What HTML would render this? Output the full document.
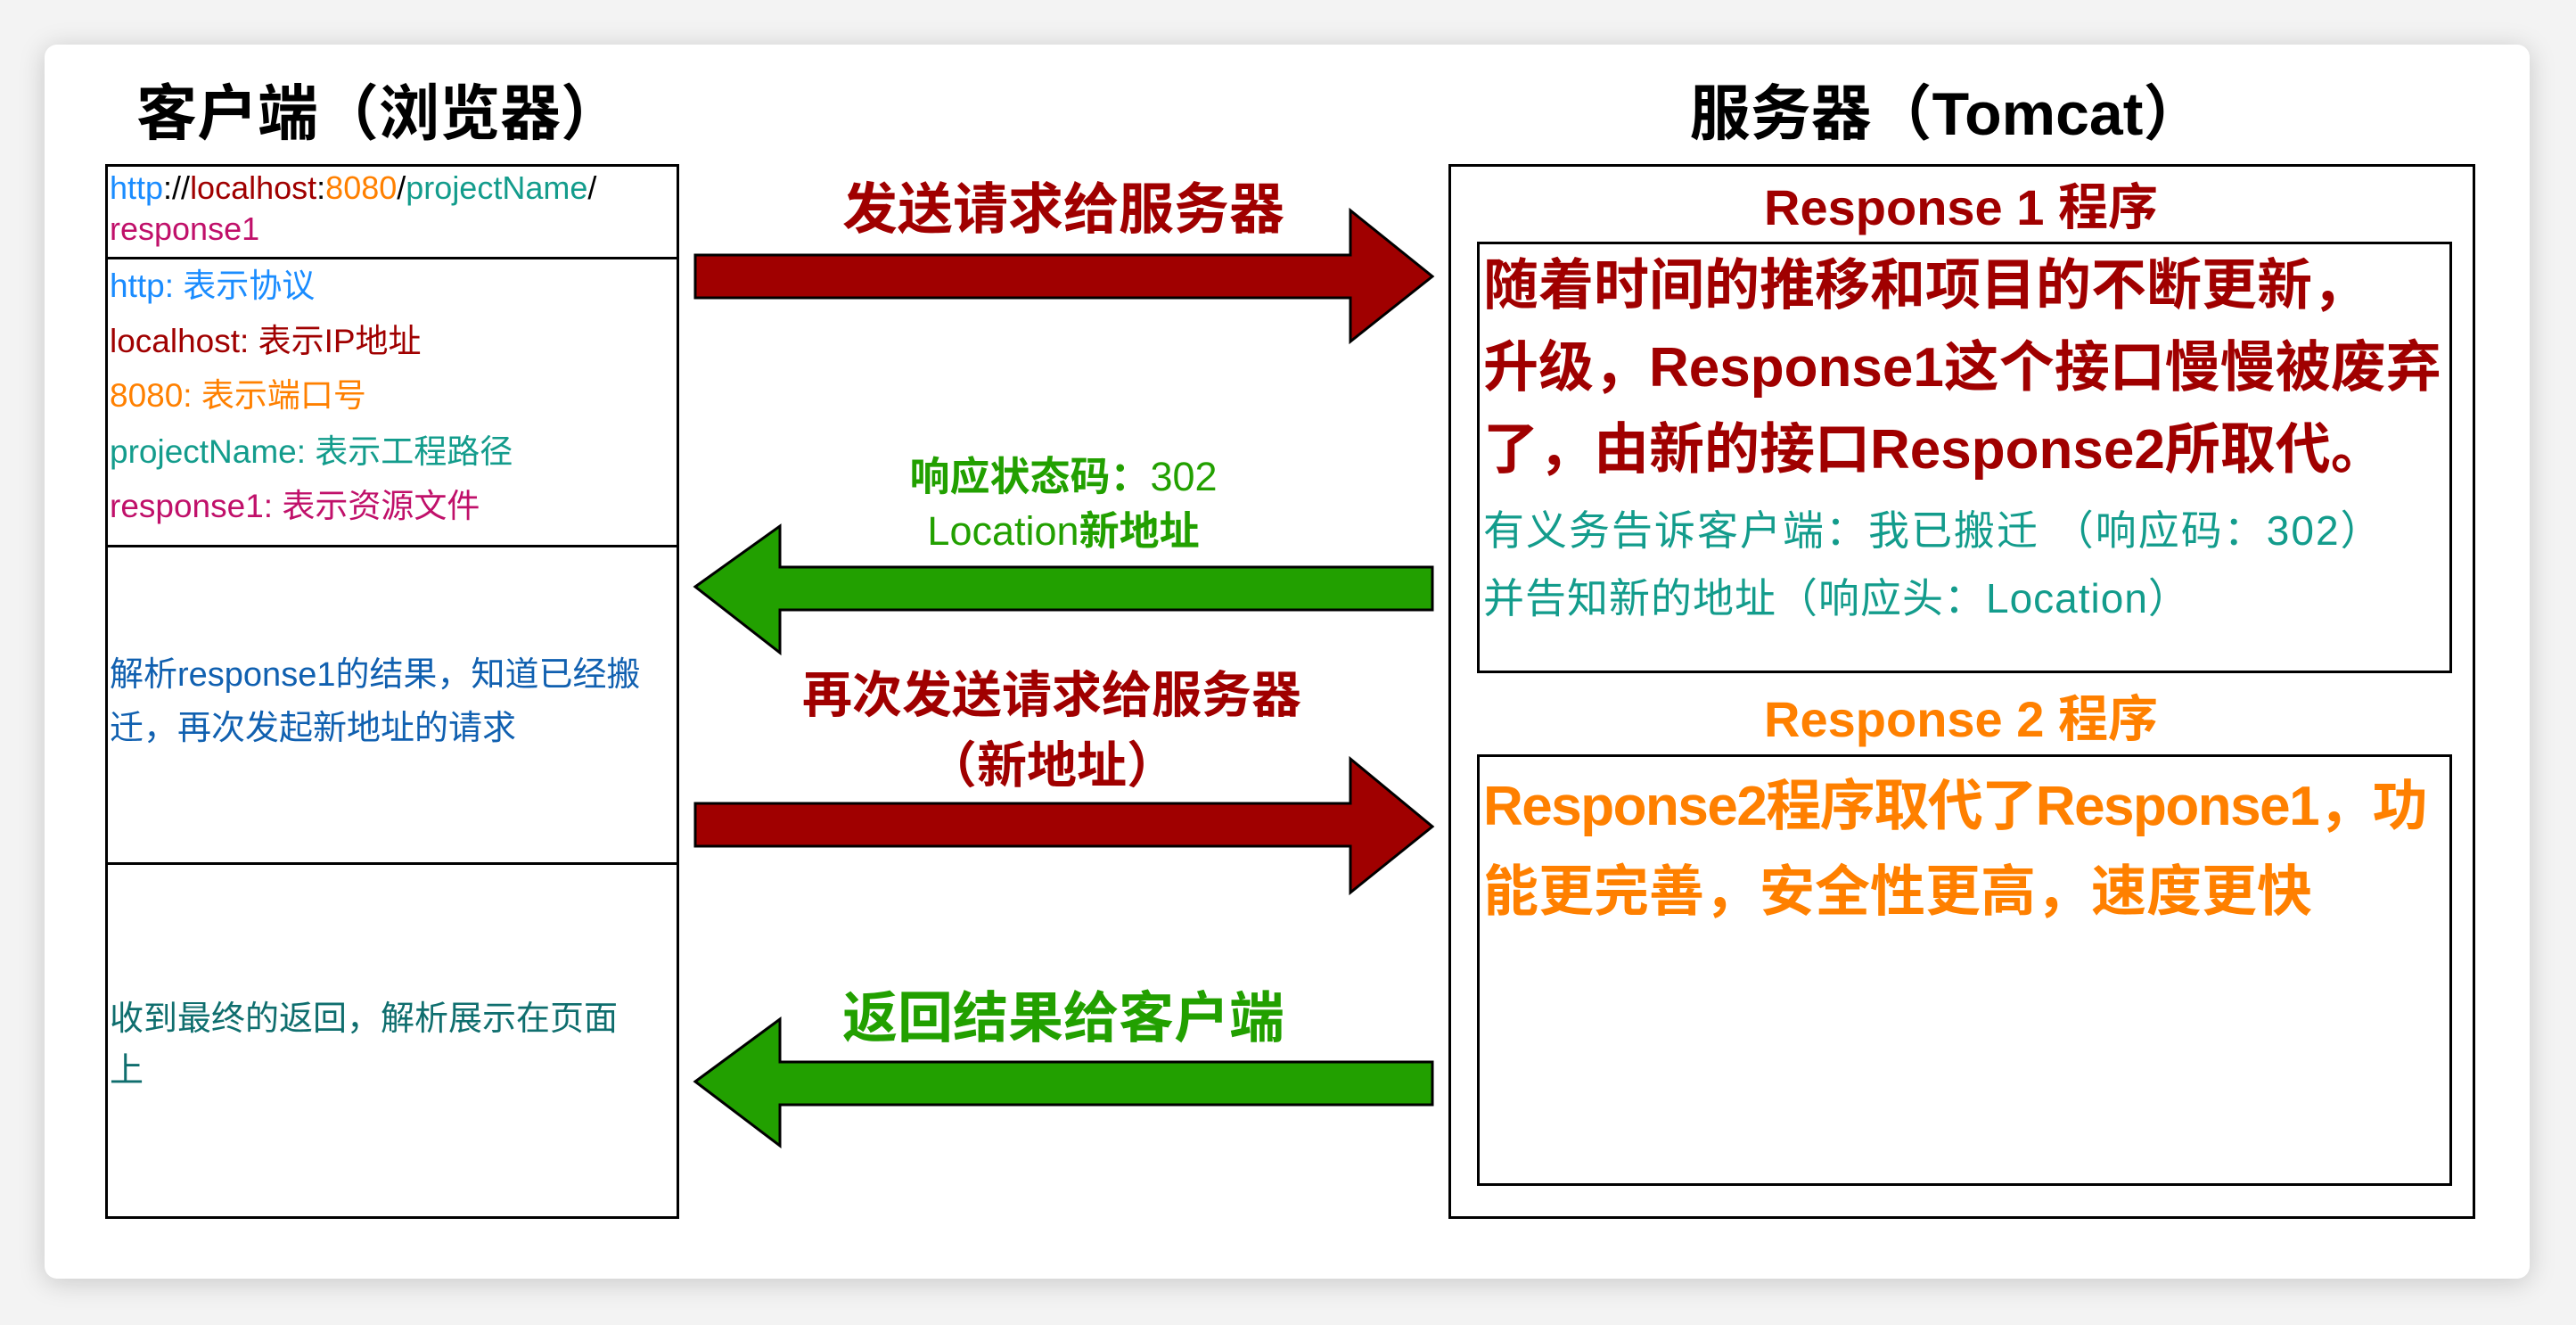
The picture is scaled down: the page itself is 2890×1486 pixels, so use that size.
<!DOCTYPE html>
<html><head><meta charset="utf-8"><style>
*{margin:0;padding:0;box-sizing:border-box}
body{width:2890px;height:1486px;background:#f3f3f3;position:relative;overflow:hidden;font-family:"Liberation Sans","Noto Sans CJK SC",sans-serif}
.card{position:absolute;left:50px;top:50px;width:2788px;height:1384px;background:#fff;border-radius:14px;box-shadow:0 4px 30px rgba(0,0,0,0.18)}
.t{position:absolute;white-space:nowrap}
.box{position:absolute;border:3px solid #000}
.hl{position:absolute;height:3px;background:#000}
.c{text-align:center;transform:translateX(-50%)}
</style></head><body>
<div class="card"></div>

<div class="t c" style="left:425px;top:88px;font-size:68px;line-height:80px;font-weight:bold">客户端（浏览器）</div>
<div class="t c" style="left:2184px;top:88px;font-size:68px;line-height:80px;font-weight:bold">服务器（Tomcat）</div>

<div class="box" style="left:118px;top:184px;width:644px;height:1183px"></div>
<div class="hl" style="left:118px;top:288px;width:644px"></div>
<div class="hl" style="left:118px;top:611px;width:644px"></div>
<div class="hl" style="left:118px;top:967px;width:644px"></div>

<div class="t" style="left:123px;top:186px;font-size:36px;line-height:50px"><span style="color:#1a8cff">http</span>://<span style="color:#a00000">localhost</span>:<span style="color:#ff8000">8080</span>/<span style="color:#139c8c">projectName</span>/</div>
<div class="t" style="left:123px;top:232px;font-size:36px;line-height:50px;color:#c0106a">response1</div>

<div class="t" style="left:123px;top:296px;font-size:37px;line-height:50px;color:#1a8cff">http: 表示协议</div>
<div class="t" style="left:123px;top:358px;font-size:37px;line-height:50px;color:#a00000">localhost: 表示IP地址</div>
<div class="t" style="left:123px;top:419px;font-size:37px;line-height:50px;color:#ff8000">8080: 表示端口号</div>
<div class="t" style="left:123px;top:482px;font-size:37px;line-height:50px;color:#139c8c">projectName: 表示工程路径</div>
<div class="t" style="left:123px;top:543px;font-size:37px;line-height:50px;color:#c0106a">response1: 表示资源文件</div>

<div class="t" style="left:123px;top:732px;font-size:38px;line-height:50px;color:#1060b0">解析response1的结果，知道已经搬</div>
<div class="t" style="left:123px;top:792px;font-size:38px;line-height:50px;color:#1060b0">迁，再次发起新地址的请求</div>

<div class="t" style="left:123px;top:1118px;font-size:38px;line-height:50px;color:#0f6e6e">收到最终的返回，解析展示在页面</div>
<div class="t" style="left:123px;top:1176px;font-size:38px;line-height:50px;color:#0f6e6e">上</div>

<svg style="position:absolute;left:0;top:0" width="2890" height="1486">
<g stroke="#000" stroke-width="3" stroke-linejoin="miter">
<polygon fill="#a00000" points="780,286 1515,286 1515,236 1607,310 1515,383 1515,334 780,334"/>
<polygon fill="#22a000" points="780,658 875,590 875,636 1607,636 1607,684 875,684 875,732"/>
<polygon fill="#a00000" points="780,901 1515,901 1515,851 1607,927 1515,1001 1515,949 780,949"/>
<polygon fill="#22a000" points="780,1213 875,1143 875,1191 1607,1191 1607,1239 875,1239 875,1285"/>
</g>
</svg>

<div class="t c" style="left:1193px;top:200px;font-size:62px;line-height:72px;font-weight:bold;color:#a00000">发送请求给服务器</div>
<div class="t c" style="left:1193px;top:508px;font-size:45px;line-height:54px;font-weight:bold;color:#22a000">响应状态码：<span style="font-weight:normal">302</span></div>
<div class="t c" style="left:1193px;top:569px;font-size:45px;line-height:54px;color:#22a000">Location<b>新地址</b></div>
<div class="t c" style="left:1180px;top:747px;font-size:56px;line-height:66px;font-weight:bold;color:#a00000">再次发送请求给服务器</div>
<div class="t c" style="left:1180px;top:826px;font-size:56px;line-height:66px;font-weight:bold;color:#a00000">（新地址）</div>
<div class="t c" style="left:1193px;top:1107px;font-size:62px;line-height:72px;font-weight:bold;color:#22a000">返回结果给客户端</div>

<div class="box" style="left:1625px;top:184px;width:1152px;height:1183px"></div>
<div class="t c" style="left:2200px;top:200px;font-size:56px;line-height:66px;font-weight:bold;color:#a00000">Response 1 程序</div>
<div class="box" style="left:1657px;top:271px;width:1094px;height:484px"></div>
<div class="t" style="left:1664px;top:285px;font-size:62px;line-height:72px;font-weight:bold;color:#a00000">随着时间的推移和项目的不断更新，</div>
<div class="t" style="left:1664px;top:377px;font-size:62px;line-height:72px;font-weight:bold;color:#a00000">升级，Response1这个接口慢慢被废弃</div>
<div class="t" style="left:1664px;top:469px;font-size:62px;line-height:72px;font-weight:bold;color:#a00000">了，由新的接口Response2所取代。</div>
<div class="t" style="left:1664px;top:568px;font-size:46px;line-height:54px;color:#139c8c;letter-spacing:2px">有义务告诉客户端：我已搬迁 （响应码：302）</div>
<div class="t" style="left:1664px;top:644px;font-size:46px;line-height:54px;color:#139c8c;letter-spacing:1px">并告知新的地址（响应头：Location）</div>

<div class="t c" style="left:2200px;top:774px;font-size:56px;line-height:66px;font-weight:bold;color:#ff8000">Response 2 程序</div>
<div class="box" style="left:1657px;top:846px;width:1094px;height:484px"></div>
<div class="t" style="left:1664px;top:869px;font-size:62px;line-height:72px;font-weight:bold;color:#ff8000;letter-spacing:-1.5px">Response2程序取代了Response1，功</div>
<div class="t" style="left:1664px;top:965px;font-size:62px;line-height:72px;font-weight:bold;color:#ff8000">能更完善，安全性更高，速度更快</div>
</body></html>
